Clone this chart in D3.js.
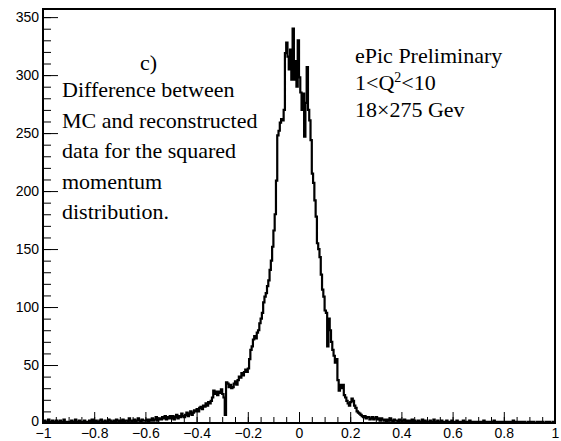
<!DOCTYPE html>
<html>
<head>
<meta charset="utf-8">
<script src="https://cdn.jsdelivr.net/npm/d3@7"></script>
<style>
  body { margin: 0; background: #fff; }
  svg { display: block; }
  .axis text { font-family: "Liberation Sans", Arial, sans-serif; font-size: 14px; fill: #000; }
  .axis path, .axis line { stroke: #000; }
</style>
</head>
<body>
<div id="chart"></div>
<script>
// histogram range and bin width
var xMin = -1, xMax = 1, binWidth = 0.005;

// counts per bin, 20 bins (0.1 wide) per row, from -1 to 1
var counts = [].concat(
  [1,2,0,1,3,1,0,2,1,1,2,0,1,2,1,0,3,1,1,0],            // -1.0 .. -0.9
  [1,0,2,1,1,3,0,1,2,1,0,1,2,1,1,0,2,1,3,1],            // -0.9 .. -0.8
  [1,2,1,0,2,3,1,1,2,0,1,3,2,1,1,2,1,3,2,1],            // -0.8 .. -0.7
  [2,1,3,1,2,2,1,4,2,1,2,3,1,2,4,2,1,3,2,2],            // -0.7 .. -0.6
  [2,3,1,3,2,4,2,3,5,2,3,4,3,5,4,6,3,5,4,6],            // -0.6 .. -0.5
  [4,6,3,5,7,4,6,5,8,6,5,7,9,6,8,10,7,9,11,10],         // -0.5 .. -0.4
  [12,10,13,14,12,15,14,17,15,18,17,19,22,28,25,27,24,27,26,29],   // -0.4 .. -0.3
  [25,22,7,35,34,31,33,30,31,34,36,33,37,40,39,43,41,44,46,44],    // -0.3 .. -0.2
  [47,55,63,66,72,75,73,78,80,86,90,95,104,109,112,118,123,132,140,152], // -0.2 .. -0.1
  [166,180,209,248,252,259,262,261,270,319,328,316,305,322,296,340,296,312,290,330], // -0.1 .. 0
  [298,285,270,284,247,276,307,270,261,244,215,207,192,178,155,150,143,128,115,109], // 0 .. 0.1
  [97,95,66,90,80,70,63,58,52,55,37,28,33,30,33,24,22,19,17,15],   // 0.1 .. 0.2
  [18,21,19,15,13,10,9,8,7,6,5,6,4,5,5,3,4,5,3,4],     // 0.2 .. 0.3
  [5,3,4,2,4,3,2,3,1,3,2,4,2,1,3,2,2,1,3,2],            // 0.3 .. 0.4
  [1,2,3,1,2,0,2,1,3,1,2,1,0,2,1,1,3,1,2,1],            // 0.4 .. 0.5
  [0,1,2,1,1,3,1,0,2,1,1,2,0,1,1,2,1,0,1,2],            // 0.5 .. 0.6
  [1,0,1,2,0,1,1,0,2,1,0,1,1,2,0,1,1,0,1,1],            // 0.6 .. 0.7
  [0,1,1,0,2,1,0,1,1,0,1,0,2,1,0,1,0,1,1,0],            // 0.7 .. 0.8
  [1,0,1,0,1,1,0,2,0,1,0,1,0,1,1,0,1,0,0,1],            // 0.8 .. 0.9
  [0,1,0,1,0,0,1,0,1,0,1,0,0,1,0,1,0,0,1,0]             // 0.9 .. 1.0
);

// tick values
var xMajorTicks = [-1, -0.8, -0.6, -0.4, -0.2, 0, 0.2, 0.4, 0.6, 0.8, 1];
var yMajorTicks = [0, 50, 100, 150, 200, 250, 300, 350];
var yMax = 357;

// text in the pad
var titleLabel = "c)";
var descLines = ["Difference between", "MC and reconstructed", "data for the squared", "momentum", "distribution."];
var infoLines = ["ePic Preliminary", "1<Q", "18\u00d7275 Gev"];

var serif = "'Liberation Serif', 'Times New Roman', serif";

function init() {
    var w = 561, h = 441;
    var left = 43, right = 555, top = 9, bottom = 423;

    var svg = d3.select("#chart").append("svg")
        .attr("width", w)
        .attr("height", h);

    var xScale = d3.scaleLinear().domain([xMin, xMax]).range([left, right]);
    var yScale = d3.scaleLinear().domain([0, yMax]).range([bottom, top]);

    //minor ticks every 0.05 on x, every 10 on y
    var xMinor = d3.range(-20, 21).map(function (i) { return i * 0.05; });
    var yMinor = d3.range(0, 36).map(function (i) { return i * 10; });

    svg.append("g")
        .attr("class", "axis")
        .attr("transform", "translate(0," + bottom + ")")
        .call(d3.axisBottom(xScale).tickValues(xMinor).tickSize(-6).tickFormat(""))
        .select(".domain").remove();

    svg.append("g")
        .attr("class", "axis")
        .attr("transform", "translate(" + left + ",0)")
        .call(d3.axisLeft(yScale).tickValues(yMinor).tickSize(-8).tickFormat(""))
        .select(".domain").remove();

    //major ticks with labels
    var xAxis = svg.append("g")
        .attr("class", "axis")
        .attr("transform", "translate(0," + bottom + ")")
        .call(d3.axisBottom(xScale).tickValues(xMajorTicks).tickSize(-11).tickPadding(5)
            .tickFormat(function (d) { return d3.format("")(d).replace("-", "\u2212"); }));
    xAxis.select(".domain").remove();

    var yAxis = svg.append("g")
        .attr("class", "axis")
        .attr("transform", "translate(" + left + ",0)")
        .call(d3.axisLeft(yScale).tickValues(yMajorTicks).tickSize(-15).tickPadding(4));
    yAxis.select(".domain").remove();
    //lift the "0" label a little off the x labels
    yAxis.selectAll("text").filter(function (d) { return d === 0; }).attr("dy", "0.2em");

    //histogram as a step outline
    var pts = counts.map(function (c, i) { return [xMin + i * binWidth, c]; });
    pts.push([xMax, counts[counts.length - 1]]);

    var line = d3.line()
        .x(function (d) { return xScale(d[0]); })
        .y(function (d) { return yScale(d[1]); })
        .curve(d3.curveStepAfter);

    svg.append("path")
        .datum(pts)
        .attr("d", line)
        .attr("fill", "none")
        .attr("stroke", "#000")
        .attr("stroke-width", 2.2);

    //frame
    svg.append("rect")
        .attr("x", left)
        .attr("y", top)
        .attr("width", right - left)
        .attr("height", bottom - top)
        .attr("fill", "none")
        .attr("stroke", "#000")
        .attr("stroke-width", 2);

    //annotations
    var notes = svg.append("g")
        .attr("font-family", serif)
        .attr("font-size", 22)
        .attr("fill", "#000");

    notes.append("text")
        .attr("x", 140).attr("y", 70)
        .text(titleLabel);

    notes.selectAll(".desc")
        .data(descLines)
        .enter().append("text")
        .attr("class", "desc")
        .attr("x", 62)
        .attr("y", function (d, i) { return 97 + i * 30.5; })
        .text(function (d) { return d; });

    notes.append("text")
        .attr("x", 355).attr("y", 63)
        .text(infoLines[0]);

    var q = notes.append("text")
        .attr("x", 355).attr("y", 90);
    q.append("tspan").text(infoLines[1]);
    q.append("tspan").attr("dy", -8).attr("font-size", 14).text("2");
    q.append("tspan").attr("dy", 8).text("<10");

    notes.append("text")
        .attr("x", 355).attr("y", 117)
        .text(infoLines[2]);
}

window.onload = init;
</script>
</body>
</html>
